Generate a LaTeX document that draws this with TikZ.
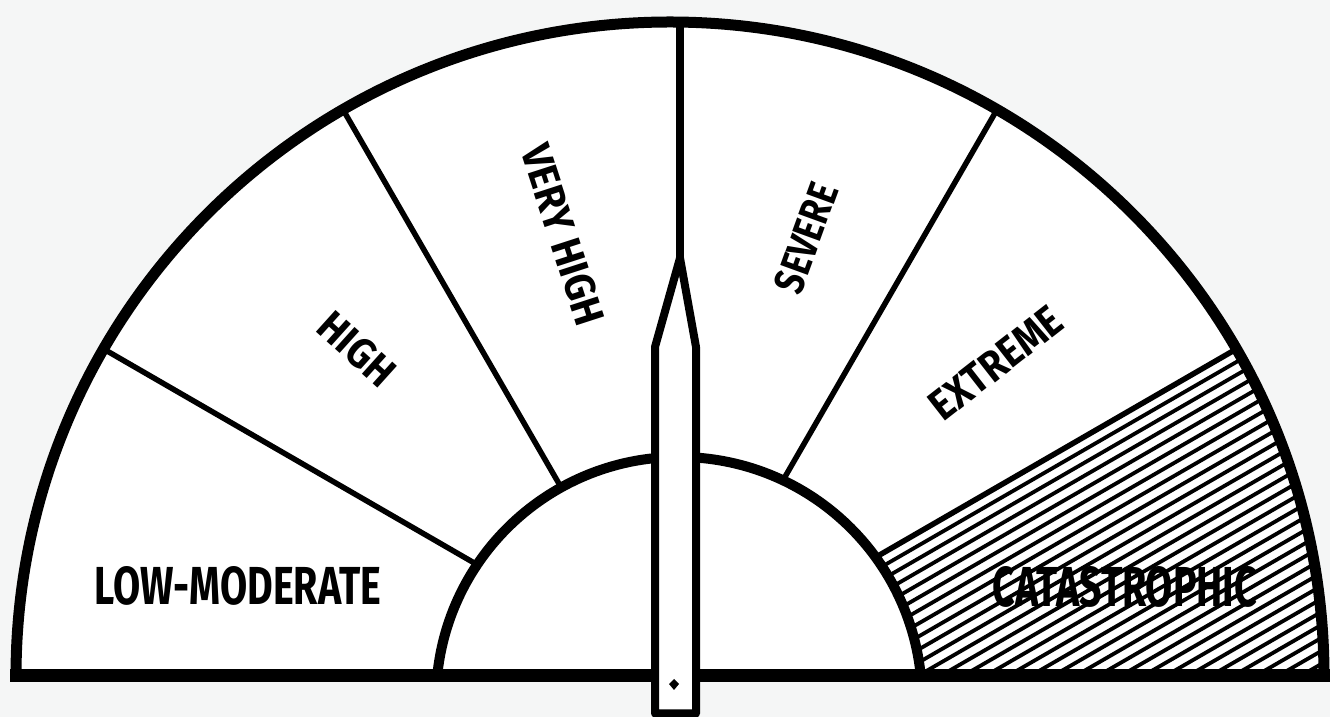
\documentclass[tikz,border=0pt]{standalone}
\usepackage{fontspec}
\setmainfont{Fira Sans}
\usepackage{graphicx}
\newcommand{\gaugelab}[3]{\resizebox{#1pt}{#2pt}{\bfseries #3}}
\begin{document}
\begin{tikzpicture}[x=1pt,y=1pt,
  divider/.style={line width=5.5, line cap=round},
  hatchline/.style={line width=3.8},
  rim/.style={line width=11},
  hub/.style={line width=10},
  lab/.style={inner sep=0pt, outer sep=0pt}]
\definecolor{bg}{RGB}{245,246,246}
\useasboundingbox (0,0) rectangle (1330,717);
\fill[bg] (0,0) rectangle (1330,717);
\coordinate (C) at (670,41);
\fill[white] (16,41) arc[start angle=180,end angle=0,radius=654] -- cycle;
% hatched sector
\begin{scope}
\clip (876,160) -- (1236.4,368) arc[start angle=30,end angle=0,radius=654] -- (921,41) arc[start angle=5.66,end angle=36,radius=243] -- cycle;
\foreach \k in {1,...,32} \draw[hatchline] (670,{41-13*\k}) ++(210:300) -- ++(30:1200);
\end{scope}
% dividers
\draw[divider] (C) ++(150:222.7) -- ++(150:431.3);
\draw[divider] (C) ++(120:217.7) -- ++(120:436.3);
\draw[divider] (C) ++(60:225.9) -- ++(60:428.1);
\draw[divider] (C) ++(30:237.5) -- ++(30:416.5);
% arcs and base
\draw[rim] (16,41) arc[start angle=180,end angle=0,radius=654];
\draw[hub] (437.2,41) arc[start angle=174.34,end angle=5.66,radius=243];
\draw[line width=13] (10,41) -- (1330,41);
% pointer
\draw[line width=8] (680,697) -- (680,459);
\filldraw[fill=white, line width=8, line join=round] (655,3.5) -- (655,370) -- (680,459) -- (696,370) -- (696,3.5) -- cycle;
\fill (674,38) -- (679,33) -- (674,27) -- (669,33) -- cycle;
% labels
\node[lab] (lowmod) at (238,131) {\gaugelab{287}{38}{LOW-MODERATE}};
\node[lab, rotate=-42] (high) at (357,368) {\gaugelab{88}{30}{HIGH}};
\node[lab, rotate=-72] (veryhigh) at (563,482) {\gaugelab{187}{30}{VERY HIGH}};
\node[lab, rotate=70] (severe) at (806,479) {\gaugelab{113}{30}{SEVERE}};
\node[lab, rotate=38] (extreme) at (996,354) {\gaugelab{156}{30}{EXTREME}};
\node[lab] (cata) at (1125,130) {\gaugelab{264}{40}{CATASTROPHIC}};
\end{tikzpicture}
\end{document}
